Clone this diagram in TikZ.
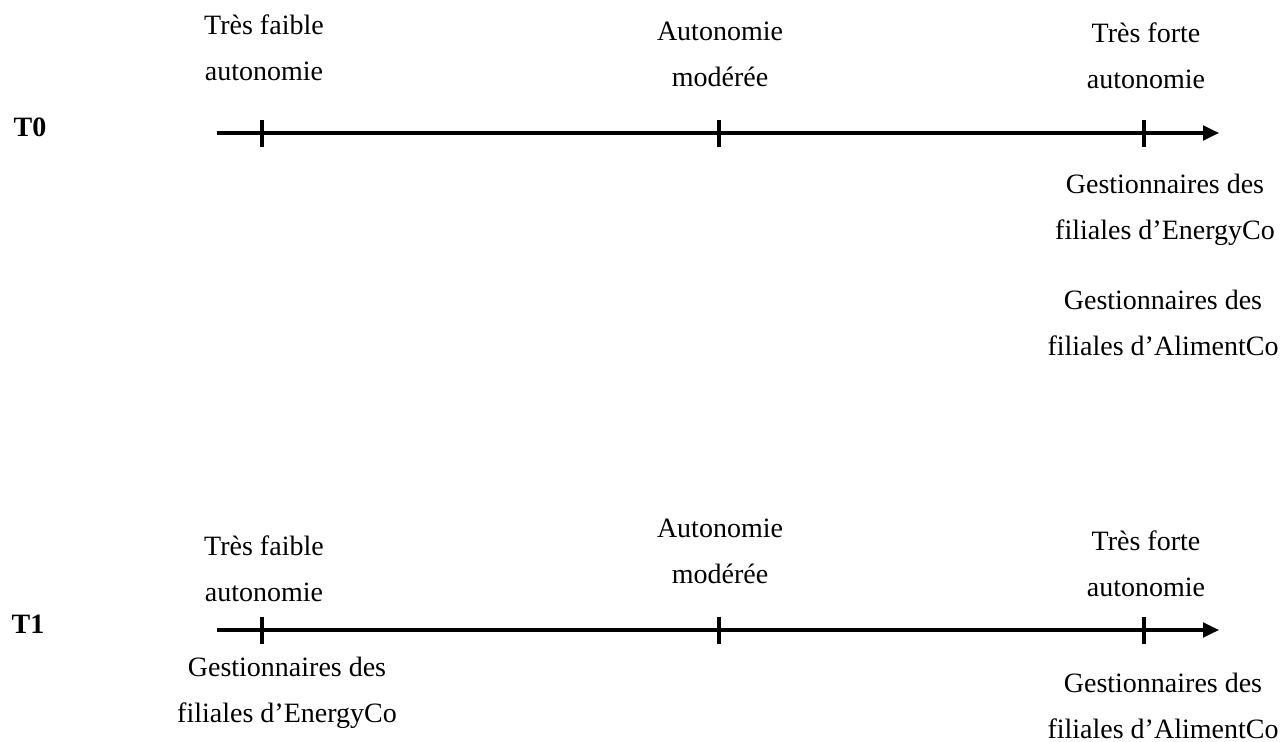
\documentclass[tikz,border=0pt]{standalone}
\usepackage{fontspec}
\setmainfont{Liberation Serif}
\usetikzlibrary{arrows.meta}
\begin{document}
\begin{tikzpicture}[x=0.75pt,y=-0.75pt,
    axe/.style={line width=2.4pt,-{Triangle[length=12pt,width=11pt]}},
    graduation/.style={line width=2.4pt},
    etiquette/.style={anchor=base,align=center,inner sep=0pt,font=\fontsize{21pt}{34.5pt}\selectfont},
    temps/.style={anchor=base,inner sep=0pt,font=\fontsize{21pt}{25pt}\selectfont\bfseries}]
    \useasboundingbox (0,0) rectangle (1286,742);

    % axe T0
    \node[temps] (T0) at (30,137) {T0};
    \coordinate (d0) at (217,133);
    \coordinate (f0) at (1219,133);
    \draw[axe] (d0) -- (f0);
    \coordinate (a0) at (262,133);
    \coordinate (b0) at (719,133);
    \coordinate (c0) at (1144,133);
    \foreach \g in {a0,b0,c0}
        \draw[graduation] ([yshift=10pt]\g) -- ([yshift=-10.5pt]\g);

    % etiquettes T0
    \node[etiquette] (faible0) at (264,81) {Très faible\\autonomie};
    \node[etiquette] (moderee0) at (720,87) {Autonomie\\modérée};
    \node[etiquette] (forte0) at (1146,89) {Très forte\\autonomie};
    \node[etiquette] (energy0) at (1165,239) {Gestionnaires des\\filiales d’EnergyCo};
    \node[etiquette] (aliment0) at (1163,355) {Gestionnaires des\\filiales d’AlimentCo};

    % axe T1
    \node[temps] (T1) at (28,633) {T1};
    \coordinate (d1) at (217,630);
    \coordinate (f1) at (1219,630);
    \draw[axe] (d1) -- (f1);
    \coordinate (a1) at (262,630);
    \coordinate (b1) at (719,630);
    \coordinate (c1) at (1144,630);
    \foreach \g in {a1,b1,c1}
        \draw[graduation] ([yshift=10pt]\g) -- ([yshift=-10.5pt]\g);

    % etiquettes T1
    \node[etiquette] (faible1) at (264,601) {Très faible\\autonomie};
    \node[etiquette] (moderee1) at (720,583) {Autonomie\\modérée};
    \node[etiquette] (forte1) at (1146,596) {Très forte\\autonomie};
    \node[etiquette] (energy1) at (287,722) {Gestionnaires des\\filiales d’EnergyCo};
    \node[etiquette] (aliment1) at (1163,738) {Gestionnaires des\\filiales d’AlimentCo};
\end{tikzpicture}
\end{document}
